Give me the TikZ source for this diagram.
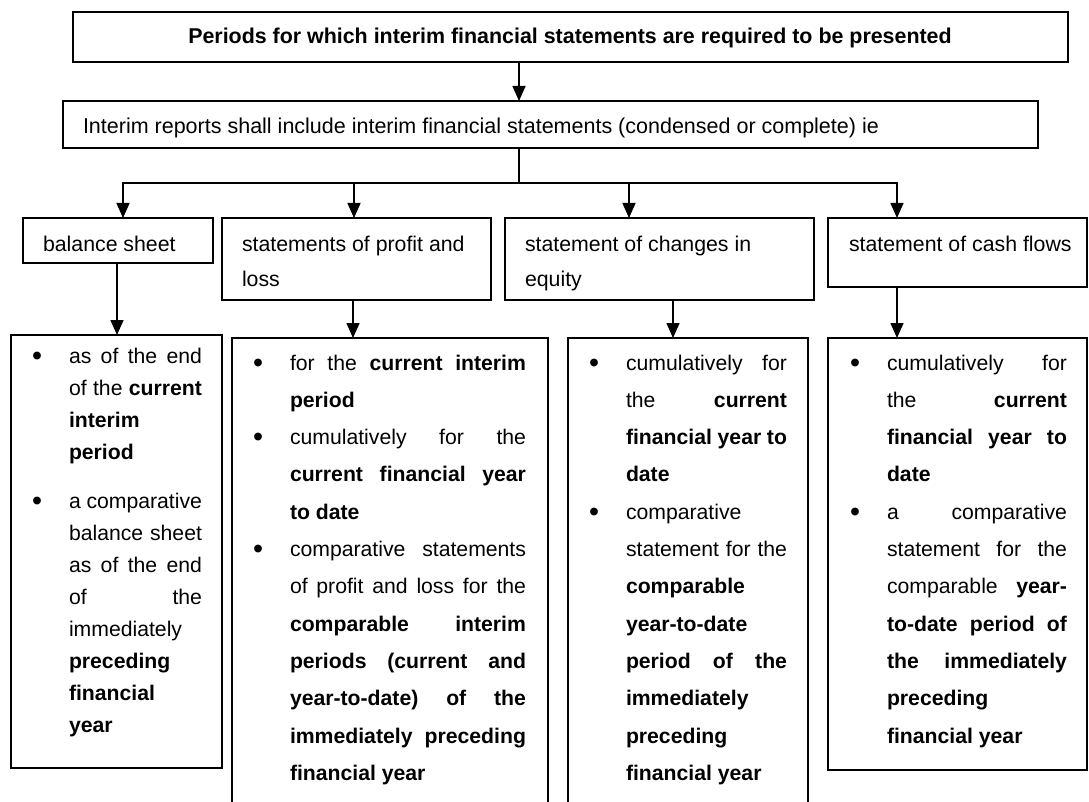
\documentclass[tikz,border=0pt]{standalone}
\usepackage{graphicx}
\usepackage{fontspec}
\setmainfont{Liberation Sans}
\usetikzlibrary{arrows.meta}
\newcommand\bul{\llap{\makebox[37pt][l]{\raisebox{-2.2pt}{\scalebox{1.35}{\textbullet}}}}}
\newcommand\jline[1]{\par\noindent\makebox[\linewidth][s]{#1}}
\newcommand\lline[1]{\par\noindent\makebox[\linewidth][l]{#1}}
\newcommand\bodyfont[1]{\fontsize{21.2}{#1}\selectfont}
\hbadness=10000 \hfuzz=20pt
\begin{document}
\begin{tikzpicture}[x=1pt,y=-1pt,
  box/.style={draw=black, line width=1.2pt, inner sep=0pt, outer sep=0pt, anchor=north west},
  txt/.style={inner sep=0pt, outer sep=0pt, anchor=base west},
  ln/.style={draw=black, line width=1.5pt},
  arr/.style={draw=black, line width=1.5pt, -{Triangle[width=13pt,length=15pt]}},
  busline/.style={draw=black, line width=2pt, line cap=rect}]
\useasboundingbox (0,0) rectangle (1089,802);
\clip (0,0) rectangle (1089,802);

% boxes
\node[box, minimum width=995pt, minimum height=50pt] (top) at (73,12) {};
\node[box, minimum width=975pt, minimum height=47pt] (sub) at (63,101) {};
\node[box, minimum width=190pt, minimum height=45pt] (b1) at (23,218) {};
\node[box, minimum width=269pt, minimum height=82pt] (b2) at (222,218) {};
\node[box, minimum width=309pt, minimum height=82pt] (b3) at (505,218) {};
\node[box, minimum width=259pt, minimum height=69pt] (b4) at (828,218) {};
\node[box, minimum width=211pt, minimum height=433pt] (c1) at (11,335) {};
\node[box, minimum width=316pt, minimum height=492pt] (c2) at (232,338) {};
\node[box, minimum width=240pt, minimum height=492pt] (c3) at (568,338) {};
\node[box, minimum width=259pt, minimum height=432pt] (c4) at (828,338) {};

% texts
\node[inner sep=0pt, anchor=base] (ttop) at (570,44)
  {\fontsize{21.4}{26}\selectfont\bfseries Periods for which interim financial statements are required to be presented};
\node[txt] (tsub) at (83,134)
  {\fontsize{21.5}{26}\selectfont Interim reports shall include interim financial statements (condensed or complete) ie};
\node[txt] (tb1) at (43,252) {\fontsize{21.3}{35}\selectfont balance sheet};
\node[txt] (tb2) at (242,252) {\parbox[t]{245pt}{\fontsize{21.3}{35}\selectfont statements of profit and\\loss}};
\node[txt] (tb3) at (525,252) {\parbox[t]{285pt}{\fontsize{21.3}{35}\selectfont statement of changes in\\equity}};
\node[txt] (tb4) at (849,252) {\fontsize{21.3}{35}\selectfont statement of cash flows};

\node[txt] (tc1) at (69,363) {\parbox[t]{133pt}{\bodyfont{32}%
\jline{\bul as of the end}
\jline{of the \textbf{current}}
\lline{\textbf{interim}}
\lline{\textbf{period}}
\par\vspace{17pt}
\jline{\bul a comparative}
\jline{balance sheet}
\jline{as of the end}
\jline{of the}
\lline{immediately}
\lline{\textbf{preceding}}
\lline{\textbf{financial}}
\lline{\textbf{year}}}};

\node[txt] (tc2) at (290,370) {\parbox[t]{236pt}{\bodyfont{37.3}%
\jline{\bul for the \textbf{current interim}}
\lline{\textbf{period}}
\jline{\bul cumulatively for the}
\jline{\textbf{current financial year}}
\lline{\textbf{to date}}
\jline{\bul comparative statements}
\jline{of profit and loss for the}
\jline{\textbf{comparable interim}}
\jline{\textbf{periods (current and}}
\jline{\textbf{year-to-date) of the}}
\jline{\textbf{immediately preceding}}
\lline{\textbf{financial year}}}};

\node[txt] (tc3) at (626,370) {\parbox[t]{161pt}{\bodyfont{37.3}%
\jline{\bul cumulatively for}
\jline{the \textbf{current}}
\jline{\textbf{financial year to}}
\lline{\textbf{date}}
\lline{\bul comparative}
\jline{statement for the}
\lline{\textbf{comparable}}
\lline{\textbf{year-to-date}}
\jline{\textbf{period of the}}
\lline{\textbf{immediately}}
\lline{\textbf{preceding}}
\lline{\textbf{financial year}}}};

\node[txt] (tc4) at (887,370) {\parbox[t]{180pt}{\bodyfont{37.3}%
\jline{\bul cumulatively for}
\jline{the \textbf{current}}
\jline{\textbf{financial year to}}
\lline{\textbf{date}}
\jline{\bul a comparative}
\jline{statement for the}
\jline{comparable \textbf{year-}}
\jline{\textbf{to-date period of}}
\jline{\textbf{the immediately}}
\lline{\textbf{preceding}}
\lline{\textbf{financial year}}}};

% connectors
\coordinate (x0) at (519,0);
\coordinate (bus) at (519,183);
\draw[arr] (top.south -| x0) -- (sub.north -| x0);
\draw[ln] (sub.south -| x0) -- (bus);
\coordinate (j1) at (123,183);
\coordinate (j2) at (354,183);
\coordinate (j3) at (629,183);
\coordinate (j4) at (897,183);
\draw[busline] (j1) -- (j4);
\draw[arr] (j1) -- (j1 |- b1.north);
\draw[arr] (j2) -- (j2 |- b2.north);
\draw[arr] (j3) -- (j3 |- b3.north);
\draw[arr] (j4) -- (j4 |- b4.north);

\coordinate (k1) at (117,0);
\coordinate (k2) at (353,0);
\coordinate (k3) at (673,0);
\coordinate (k4) at (897,0);
\draw[arr] (b1.south -| k1) -- (c1.north -| k1);
\draw[arr] (b2.south -| k2) -- (c2.north -| k2);
\draw[arr] (b3.south -| k3) -- (c3.north -| k3);
\draw[arr] (b4.south -| k4) -- (c4.north -| k4);
\end{tikzpicture}
\end{document}
